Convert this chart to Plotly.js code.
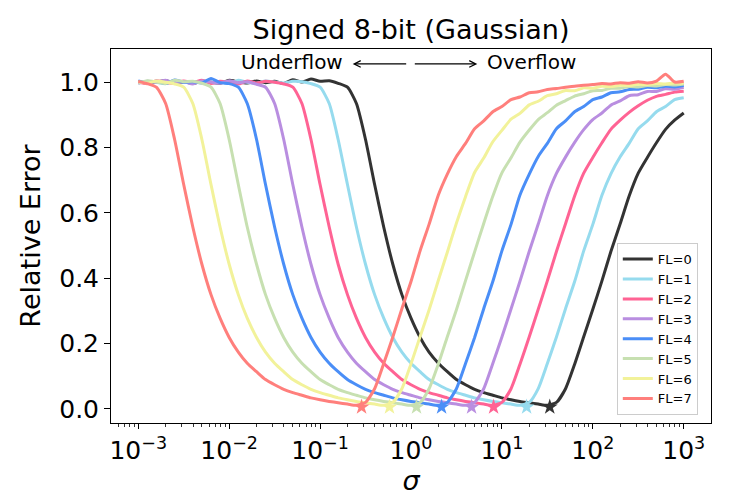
<!DOCTYPE html>
<html><head><meta charset="utf-8">
<script src="https://cdn.plot.ly/plotly-3.0.1.min.js"></script>
<style>html,body{margin:0;padding:0;background:#fff;}</style>
</head><body>
<div id="chart" style="width:747px;height:498px"></div>
<script>
// sigma sample grid (log-spaced, 10 per decade)
const sigma = [0.001, 0.00126, 0.00158, 0.002, 0.00251, 0.00316, 0.00398, 0.00501, 0.00631, 0.00794,
  0.01, 0.0126, 0.0158, 0.02, 0.0251, 0.0316, 0.0398, 0.0501, 0.0631, 0.0794,
  0.1, 0.126, 0.158, 0.2, 0.251, 0.316, 0.398, 0.501, 0.631, 0.794,
  1, 1.26, 1.58, 2, 2.51, 3.16, 3.98, 5.01, 6.31, 7.94,
  10, 12.6, 15.8, 20, 25.1, 31.6, 39.8, 50.1, 63.1, 79.4,
  100, 126, 158, 200, 251, 316, 398, 501, 631, 794,
  1000];

const fl0 = [1.003, 0.997, 1.001, 1.005, 0.998, 1.002, 0.996, 1.004, 1.000, 0.997,
  1.006, 1.001, 0.998, 1.004, 0.999, 1.003, 0.996, 1.008, 1.001, 1.010,
  1.003, 1.005, 0.997, 0.985, 0.935, 0.825, 0.687, 0.557, 0.443, 0.350,
  0.278, 0.219, 0.174, 0.140, 0.114, 0.090, 0.074, 0.060, 0.050, 0.042,
  0.034, 0.028, 0.023, 0.019, 0.015, 0.011, 0.020, 0.062, 0.137, 0.221,
  0.305, 0.392, 0.482, 0.567, 0.652, 0.722, 0.770, 0.815, 0.856, 0.884,
  0.906];
const fl1 = [0.998, 1.003, 1.000, 0.996, 1.005, 1.001, 0.997, 1.004, 0.999, 1.002,
  0.996, 1.006, 1.000, 0.997, 1.004, 1.001, 0.998, 1.003, 1.002, 0.996,
  0.985, 0.935, 0.825, 0.687, 0.557, 0.443, 0.350, 0.278, 0.219, 0.174,
  0.140, 0.114, 0.090, 0.074, 0.060, 0.050, 0.042, 0.034, 0.028, 0.023,
  0.019, 0.015, 0.011, 0.020, 0.062, 0.139, 0.220, 0.307, 0.390, 0.484,
  0.565, 0.654, 0.720, 0.772, 0.813, 0.858, 0.882, 0.910, 0.926, 0.947,
  0.953];
const fl2 = [1.001, 0.996, 1.005, 1.000, 0.997, 1.004, 0.999, 1.006, 0.996, 1.003,
  1.000, 0.995, 1.004, 0.998, 1.003, 1.000, 0.995, 0.985, 0.935, 0.825,
  0.687, 0.557, 0.443, 0.350, 0.278, 0.219, 0.174, 0.140, 0.114, 0.090,
  0.074, 0.060, 0.050, 0.042, 0.034, 0.028, 0.023, 0.019, 0.015, 0.011,
  0.020, 0.062, 0.137, 0.221, 0.305, 0.392, 0.482, 0.567, 0.652, 0.722,
  0.770, 0.815, 0.856, 0.884, 0.908, 0.928, 0.945, 0.957, 0.963, 0.970,
  0.973];
const fl3 = [0.997, 1.003, 1.000, 1.006, 0.998, 1.002, 0.995, 1.004, 1.001, 0.997,
  1.005, 0.999, 1.002, 0.994, 0.985, 0.935, 0.825, 0.687, 0.557, 0.443,
  0.350, 0.278, 0.219, 0.174, 0.140, 0.114, 0.090, 0.074, 0.060, 0.050,
  0.042, 0.034, 0.028, 0.023, 0.019, 0.015, 0.011, 0.020, 0.062, 0.139,
  0.220, 0.306, 0.391, 0.483, 0.566, 0.653, 0.721, 0.771, 0.816, 0.855,
  0.886, 0.906, 0.930, 0.943, 0.959, 0.962, 0.972, 0.972, 0.980, 0.979,
  0.985];
const fl4 = [1.004, 0.999, 1.003, 0.996, 1.007, 1.000, 1.002, 0.998, 1.012, 0.999,
  0.996, 0.985, 0.935, 0.825, 0.687, 0.557, 0.443, 0.350, 0.278, 0.219,
  0.174, 0.140, 0.114, 0.090, 0.074, 0.060, 0.050, 0.042, 0.034, 0.028,
  0.023, 0.019, 0.015, 0.011, 0.020, 0.062, 0.139, 0.219, 0.307, 0.390,
  0.484, 0.565, 0.655, 0.719, 0.773, 0.813, 0.858, 0.882, 0.910, 0.926,
  0.947, 0.955, 0.968, 0.971, 0.978, 0.979, 0.985, 0.983, 0.988, 0.986,
  0.991];
const fl5 = [0.998, 1.005, 1.001, 0.996, 1.006, 1.002, 1.003, 0.997, 0.985, 0.935,
  0.825, 0.687, 0.557, 0.443, 0.350, 0.278, 0.219, 0.174, 0.140, 0.114,
  0.090, 0.074, 0.060, 0.050, 0.042, 0.034, 0.028, 0.023, 0.019, 0.015,
  0.011, 0.020, 0.062, 0.138, 0.221, 0.304, 0.393, 0.481, 0.568, 0.651,
  0.723, 0.769, 0.817, 0.854, 0.886, 0.907, 0.930, 0.944, 0.958, 0.965,
  0.974, 0.975, 0.982, 0.982, 0.987, 0.986, 0.990, 0.989, 0.993, 0.992,
  0.995];
const fl6 = [1.002, 0.997, 1.004, 1.000, 0.995, 0.985, 0.935, 0.825, 0.687, 0.557,
  0.443, 0.350, 0.278, 0.219, 0.174, 0.140, 0.114, 0.090, 0.074, 0.060,
  0.050, 0.042, 0.034, 0.028, 0.023, 0.019, 0.015, 0.011, 0.020, 0.062,
  0.138, 0.222, 0.303, 0.394, 0.480, 0.569, 0.650, 0.724, 0.768, 0.818,
  0.853, 0.887, 0.905, 0.931, 0.942, 0.959, 0.965, 0.975, 0.974, 0.983,
  0.982, 0.988, 0.987, 0.991, 0.990, 0.994, 0.993, 0.996, 0.995, 0.998,
  0.997];
const fl7 = [1.003, 0.996, 0.985, 0.935, 0.825, 0.687, 0.557, 0.443, 0.350, 0.278,
  0.219, 0.174, 0.140, 0.114, 0.090, 0.074, 0.060, 0.050, 0.042, 0.034,
  0.028, 0.023, 0.019, 0.015, 0.011, 0.020, 0.062, 0.139, 0.220, 0.307,
  0.390, 0.484, 0.565, 0.655, 0.719, 0.773, 0.813, 0.858, 0.882, 0.910,
  0.926, 0.947, 0.955, 0.968, 0.971, 0.978, 0.981, 0.985, 0.988, 0.991,
  0.993, 0.996, 0.995, 0.999, 0.997, 1.002, 0.998, 1.004, 1.025, 1.001,
  1.003];

const seriesNames = ['FL=0', 'FL=1', 'FL=2', 'FL=3', 'FL=4', 'FL=5', 'FL=6', 'FL=7'];
const seriesValues = [fl0, fl1, fl2, fl3, fl4, fl5, fl6, fl7];
const seriesColors = ['#333333', '#96dbee', '#ff6394', '#b98ee0', '#4a8ef7', '#c7e0b1', '#f2f29a', '#ff7f7c'];

// minimum-error points (stars)
const starSigma = [33.6, 18.7, 8.1, 4.64, 2.17, 1.15, 0.58, 0.286];
const starErr = [0.006, 0.006, 0.006, 0.006, 0.006, 0.006, 0.006, 0.006];

const xTickVals = [0.001, 0.01, 0.1, 1, 10, 100, 1000];
const xTickText = ['10<sup>−3</sup>', '10<sup>−2</sup>', '10<sup>−1</sup>', '10<sup>0</sup>',
                   '10<sup>1</sup>', '10<sup>2</sup>', '10<sup>3</sup>'];
const yTickVals = [0, 0.2, 0.4, 0.6, 0.8, 1.0];
const yTickText = ['0.0', '0.2', '0.4', '0.6', '0.8', '1.0'];

const minorVals = [];
for (let e = -4; e <= 3; e++) {
  for (let m = 2; m <= 9; m++) minorVals.push(m * Math.pow(10, e));
}

const FONT = 'DejaVu Sans, Liberation Sans, sans-serif';
const traces = [];
for (let i = 0; i < seriesNames.length; i++) {
  traces.push({
    type: 'scatter', mode: 'lines', name: seriesNames[i],
    x: sigma, y: seriesValues[i],
    line: {color: seriesColors[i], width: 3, shape: 'spline', smoothing: 0.6}
  });
}
for (let i = 0; i < seriesNames.length; i++) {
  traces.push({
    type: 'scatter', mode: 'markers', showlegend: false,
    x: [starSigma[i]], y: [starErr[i]],
    marker: {symbol: 'star', size: 12, color: seriesColors[i]}
  });
}

const layout = {
  width: 747, height: 498,
  margin: {l: 111, r: 36, t: 49, b: 75},
  paper_bgcolor: '#ffffff', plot_bgcolor: '#ffffff',
  font: {family: FONT, color: '#000000'},
  showlegend: true,
  title: {text: 'Signed 8-bit (Gaussian)', font: {family: FONT, size: 27, color: '#000'},
          x: 0.5, xref: 'paper', xanchor: 'center', y: 0.94, yref: 'container', yanchor: 'middle'},
  xaxis: {
    type: 'log', range: [-3.3, 3.3],
    tickmode: 'array', tickvals: xTickVals, ticktext: xTickText,
    ticks: 'outside', ticklen: 5, tickwidth: 1, tickcolor: '#000',
    tickfont: {family: FONT, size: 25, color: '#000'},
    minor: {tickmode: 'array', tickvals: minorVals, ticks: 'outside', ticklen: 3, tickwidth: 0.8, tickcolor: '#000', showgrid: false},
    showgrid: false, zeroline: false,
    showline: true, linecolor: '#000', linewidth: 1, mirror: true,
    title: {text: '<i>σ</i>', font: {family: FONT, size: 27, color: '#000'}, standoff: 2}
  },
  yaxis: {
    range: [-0.043, 1.102],
    tickmode: 'array', tickvals: yTickVals, ticktext: yTickText,
    ticks: 'outside', ticklen: 6, tickwidth: 1, tickcolor: '#000',
    tickfont: {family: FONT, size: 25, color: '#000'},
    showgrid: false, zeroline: false,
    showline: true, linecolor: '#000', linewidth: 1, mirror: true,
    title: {text: 'Relative Error', font: {family: FONT, size: 27, color: '#000'}, standoff: 10}
  },
  legend: {
    x: 0.843, y: 0.021, xanchor: 'left', yanchor: 'bottom',
    bgcolor: 'rgba(255,255,255,0.85)', bordercolor: '#cccccc', borderwidth: 1,
    font: {family: FONT, size: 13, color: '#000'},
    tracegroupgap: 0, itemwidth: 30
  },
  annotations: [
    {xref: 'paper', yref: 'paper', x: 0.301, y: 0.965, text: 'Underflow', showarrow: false,
     xanchor: 'center', yanchor: 'middle', font: {family: FONT, size: 20, color: '#000'}},
    {xref: 'paper', yref: 'paper', x: 0.701, y: 0.965, text: 'Overflow', showarrow: false,
     xanchor: 'center', yanchor: 'middle', font: {family: FONT, size: 20, color: '#000'}},
    {xref: 'paper', yref: 'paper', x: 0.4028, y: 0.960, text: '', showarrow: true,
     ax: 55, ay: 0, arrowhead: 5, arrowsize: 1, arrowwidth: 1.3, arrowcolor: '#000'},
    {xref: 'paper', yref: 'paper', x: 0.6105, y: 0.960, text: '', showarrow: true,
     ax: -64, ay: 0, arrowhead: 5, arrowsize: 1, arrowwidth: 1.3, arrowcolor: '#000'}
  ]
};

Plotly.newPlot('chart', traces, layout, {displayModeBar: false, staticPlot: true});
</script>
</body></html>
